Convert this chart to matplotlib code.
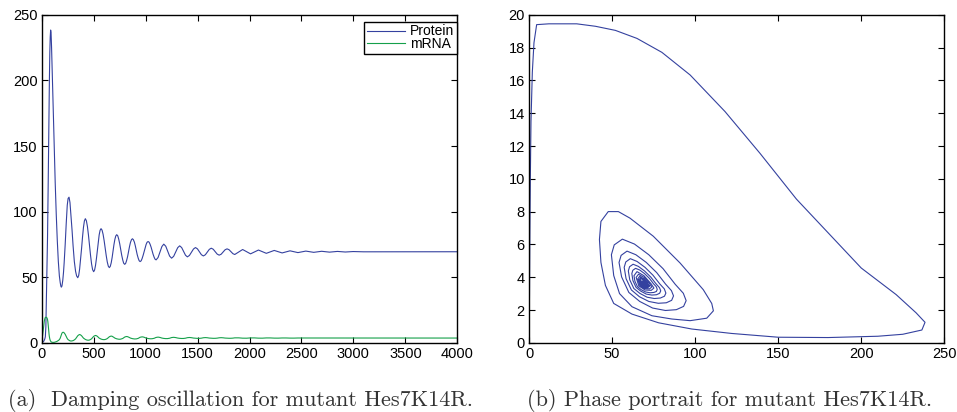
import matplotlib
matplotlib.use("Agg")
import matplotlib.pyplot as plt

# ---------------- data ----------------
# initial transient (time, protein, mRNA)
time_initial = [0, 5, 10, 15, 20, 25, 30, 35, 40, 44, 47, 50, 53, 56, 59, 62, 65, 68,
                71, 74, 78, 82, 86, 90, 95, 100, 110, 120, 130, 140, 150, 160, 170,
                178, 184, 189, 195, 203, 210, 216, 226, 236, 246, 254, 263, 272, 282,
                292, 302, 314, 326, 336]
protein_initial = [0, 0.3, 0.5, 0.8, 1.2, 2.0, 3.0, 4.6, 12, 28.7, 40, 52, 65, 80, 97,
                   118, 139, 161, 183, 200, 221, 233, 238.4, 236.5, 225, 210, 180, 150,
                   122, 98, 78, 62, 51, 46, 43.3, 42.4, 43.3, 47.7, 53.8, 60.8, 74.8,
                   90.9, 104.9, 110, 111, 107, 97, 86, 74, 62, 54.5, 51]
mrna_initial = [0, 3.0, 6.5, 10.0, 13.5, 16.5, 18.3, 19.4, 19.45, 19.45, 19.3, 19.05,
                18.56, 17.71, 16.33, 14.1, 11.56, 8.76, 6.39, 4.56, 2.94, 1.83, 1.25,
                0.78, 0.52, 0.4, 0.32, 0.34, 0.57, 0.84, 1.22, 1.75, 2.4, 3.5, 4.9,
                6.3, 7.4, 8.0, 8.0, 7.6, 6.5, 4.87, 3.24, 2.4, 1.95, 1.5, 1.35, 1.45,
                1.65, 2.2, 3.0, 4.1]

# damped oscillation part
time_osc = [347, 356, 365, 374, 384, 393, 402, 411, 420, 430, 440, 450, 460, 470, 480, 490,
            500, 509, 518, 527, 536, 544, 553, 562, 571, 581, 591, 601, 611, 621, 631, 641,
            651, 660, 669, 678, 686, 695, 704, 713, 722, 732, 741, 751, 760, 770, 780, 789,
            799, 808, 817, 827, 836, 845, 854, 864, 873, 882, 892, 901, 910, 919, 929, 938,
            947, 957, 966, 976, 986, 995, 1005, 1014, 1024, 1034, 1043, 1053, 1062, 1072, 1082, 1091,
            1101, 1120, 1138, 1157, 1175, 1194, 1212, 1231,
            1250, 1270, 1289, 1309, 1328, 1347, 1365, 1384,
            1402, 1422, 1441, 1461, 1480, 1499, 1518, 1537,
            1556, 1575, 1594, 1613, 1632, 1651, 1670, 1689,
            1708, 1727, 1746, 1765, 1784, 1803, 1821, 1840,
            1858, 1896, 1934, 1972,
            2010, 2048, 2086, 2124,
            2162, 2200, 2238, 2276,
            2314, 2352, 2390, 2428,
            2466, 2504, 2542, 2580,
            2618, 2656, 2694, 2732,
            2770, 2808, 2846, 2884,
            2922, 2998, 3100, 4000]
protein_osc = [49.6, 51.3, 56.2, 63.5, 72.1, 80.7, 88.0, 92.9, 94.6, 93.06, 88.69, 82.13, 74.4, 66.67, 60.11, 55.74,
               54.2, 55.45, 59.0, 64.33, 70.6, 76.87, 82.2, 85.75, 87.0, 85.87, 82.65, 77.83, 72.15, 66.47, 61.65, 58.43,
               57.3, 58.26, 60.98, 65.05, 69.85, 74.65, 78.73, 81.44, 82.4, 81.54, 79.09, 75.42, 71.1, 66.78, 63.11, 60.66,
               59.8, 60.54, 62.66, 65.82, 69.55, 73.28, 76.45, 78.56, 79.3, 78.64, 76.75, 73.93, 70.6, 67.27, 64.45, 62.56,
               61.9, 62.48, 64.14, 66.62, 69.55, 72.48, 74.96, 76.62, 77.2, 76.67, 75.15, 72.88, 70.2, 67.52, 65.25, 63.73,
               63.2, 65.0, 69.2, 73.4, 75.2, 73.6, 69.85, 66.1,
               64.5, 65.9, 69.2, 72.5, 73.9, 72.6, 69.7, 66.75,
               65.5, 66.6, 69.05, 71.5, 72.6, 71.6, 69.4, 67.15,
               66.2, 67.1, 69.15, 71.2, 72.1, 71.3, 69.45, 67.6,
               66.8, 67.5, 69.2, 70.9, 71.6, 70.95, 69.45, 67.95,
               67.3, 69.2, 71.1, 69.45,
               67.8, 69.25, 70.7, 69.45,
               68.2, 69.3, 70.4, 69.45,
               68.5, 69.3, 70.1, 69.4,
               68.75, 69.3, 69.9, 69.4,
               68.95, 69.35, 69.75, 69.4,
               69.1, 69.4, 69.65, 69.4,
               69.2, 69.55, 69.35, 69.4]
mrna_osc = [5.37, 5.97, 6.32, 6.02, 5.37, 4.52, 3.57, 3.02, 2.57, 2.22, 2.02, 1.97, 2.12, 2.52, 3.07, 4.02,
            4.90, 5.33, 5.59, 5.37, 4.90, 4.28, 3.58, 3.18, 2.86, 2.59, 2.44, 2.41, 2.52, 2.81, 3.22, 3.91,
            4.60, 4.93, 5.13, 4.96, 4.60, 4.12, 3.59, 3.29, 3.03, 2.84, 2.73, 2.70, 2.78, 3.01, 3.31, 3.84,
            4.38, 4.64, 4.79, 4.66, 4.38, 4.01, 3.60, 3.36, 3.17, 3.02, 2.93, 2.91, 2.97, 3.15, 3.38, 3.79,
            4.22, 4.42, 4.54, 4.44, 4.22, 3.93, 3.60, 3.42, 3.26, 3.13, 3.07, 3.05, 3.10, 3.24, 3.43, 3.76,
            4.09, 4.34, 4.09, 3.61, 3.34, 3.20, 3.22, 3.47,
            3.99, 4.18, 3.99, 3.61, 3.40, 3.29, 3.31, 3.51,
            3.90, 4.05, 3.90, 3.61, 3.45, 3.37, 3.38, 3.53,
            3.85, 3.97, 3.85, 3.61, 3.48, 3.41, 3.42, 3.55,
            3.81, 3.91, 3.81, 3.61, 3.51, 3.45, 3.46, 3.56,
            3.77, 3.77, 3.53, 3.50,
            3.73, 3.73, 3.55, 3.53,
            3.71, 3.71, 3.57, 3.55,
            3.68, 3.68, 3.58, 3.57,
            3.66, 3.66, 3.59, 3.58,
            3.65, 3.65, 3.60, 3.59,
            3.64, 3.64, 3.61, 3.60,
            3.63, 3.61, 3.62, 3.62]

series_labels = ["Protein", "mRNA"]
left_xticks = [0, 500, 1000, 1500, 2000, 2500, 3000, 3500, 4000]
left_yticks = [0, 50, 100, 150, 200, 250]
right_xticks = [0, 50, 100, 150, 200, 250]
right_yticks = [0, 2, 4, 6, 8, 10, 12, 14, 16, 18, 20]
caption_a = "(a)  Damping oscillation for mutant Hes7K14R."
caption_b = "(b) Phase portrait for mutant Hes7K14R."

# ---------------- drawing ----------------
plt.rcParams["font.family"] = ["Liberation Sans", "DejaVu Sans"]

BLUE = "#34419f"
GREEN = "#15a04a"

time = time_initial + time_osc
protein = protein_initial + protein_osc
mrna = mrna_initial + mrna_osc

fig = plt.figure(figsize=(9.57, 4.12), dpi=100)
W, H = 957.0, 412.0
ax1 = fig.add_axes([41.7 / W, (H - 342.8) / H, 415.6 / W, 328.0 / H])
ax2 = fig.add_axes([529.0 / W, (H - 342.8) / H, 415.3 / W, 328.0 / H])

ax1.plot(time, protein, color=BLUE, lw=0.8, label=series_labels[0])
ax1.plot(time, mrna, color=GREEN, lw=0.8, label=series_labels[1])
ax1.set_xlim(left_xticks[0], left_xticks[-1])
ax1.set_ylim(left_yticks[0], left_yticks[-1])
ax1.set_xticks(left_xticks)
ax1.set_yticks(left_yticks)

ax2.plot(protein, mrna, color=BLUE, lw=0.8)
ax2.set_xlim(right_xticks[0], right_xticks[-1])
ax2.set_ylim(right_yticks[0], right_yticks[-1])
ax2.set_xticks(right_xticks)
ax2.set_yticks(right_yticks)

for ax in (ax1, ax2):
    ax.tick_params(direction="in", top=True, right=True, length=4, width=0.8,
                   labelsize=10.5, pad=3, colors="black")
    for sp in ax.spines.values():
        sp.set_linewidth(1.0)
        sp.set_color("black")

leg = ax1.legend(loc="upper right", bbox_to_anchor=(1.0, 1 - 6.9 / 328.0),
                 borderaxespad=0, fontsize=10, frameon=True, fancybox=False,
                 edgecolor="black", framealpha=1, handlelength=2.8,
                 handletextpad=0.35, labelspacing=-0.1, borderpad=0.2)
leg.get_frame().set_linewidth(1.0)

fig.text(241 / W, 1 - 400 / H, caption_a, ha="center", va="center",
         fontfamily="cmr10", fontsize=16, color="#333333")
fig.text(730 / W, 1 - 400 / H, caption_b, ha="center", va="center",
         fontfamily="cmr10", fontsize=16, color="#333333")

fig.savefig("out.png", dpi=100)
